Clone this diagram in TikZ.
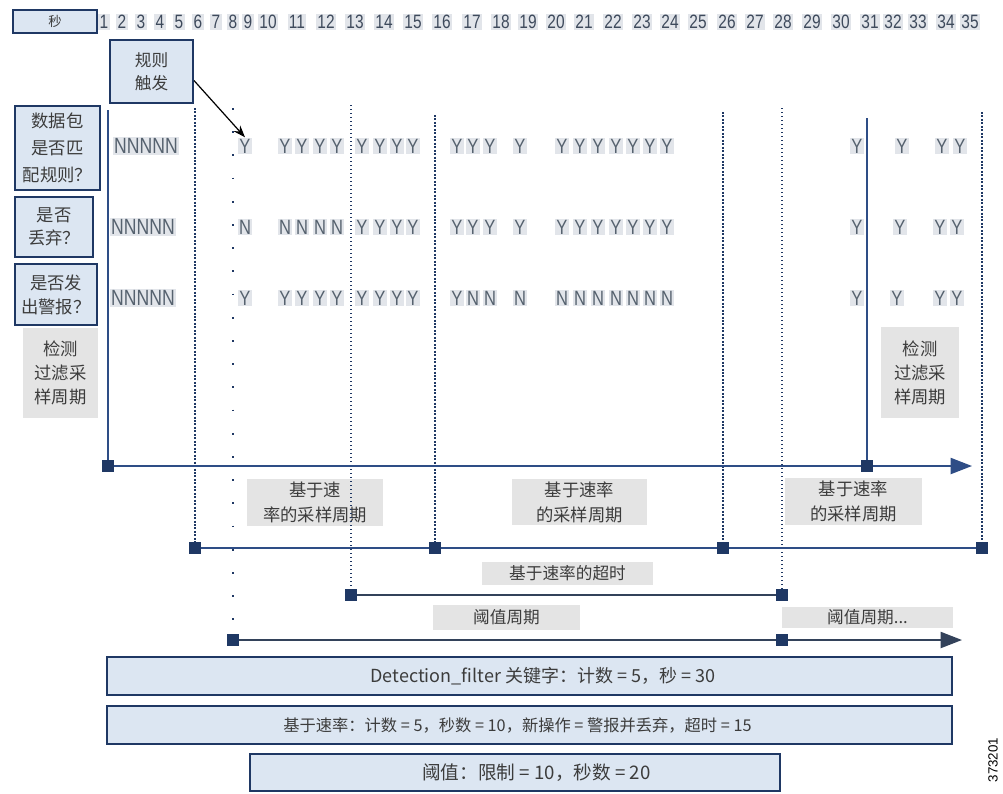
\documentclass[tikz,border=0pt]{standalone}
\usepackage{fontspec}
\setmainfont{Liberation Sans}
\newfontfamily\cjk{Noto Sans CJK SC}
\newfontfamily\narrowf{Liberation Sans}[FakeStretch=0.8]
\usetikzlibrary{arrows.meta}
\definecolor{navy}{HTML}{1F3864}
\definecolor{linec}{HTML}{2E4D86}
\definecolor{slate}{HTML}{33425A}
\definecolor{bfill}{HTML}{DCE6F2}
\definecolor{gfill}{HTML}{E4E4E4}
\definecolor{txt}{HTML}{3C3C3C}
\definecolor{numtxt}{HTML}{3E4A5C}
\definecolor{numbg}{HTML}{E2E5EA}
\definecolor{yntxt}{HTML}{56626F}
\newcommand{\mybox}[7]{\node[#1, minimum width={(#5-#3)*0.75pt}, minimum height={(#6-#4)*0.75pt}] (#2) at ({(#3+#5)/2},{(#4+#6)/2}) {#7};}
\begin{document}
\begin{tikzpicture}[x=0.75pt,y=-0.75pt,
  lbox/.style={draw=navy, line width=1.5pt, fill=bfill, inner sep=0pt, text=txt, align=center},
  gbox/.style={fill=gfill, draw=none, inner sep=0pt, text=txt, align=center},
  bbox/.style={draw=navy, line width=1.2pt, fill=bfill, inner sep=0pt},
  btext/.style={text=txt, inner sep=0pt},
  num/.style={fill=numbg, text=numtxt, inner sep=1pt, font=\narrowf\fontsize{14.5}{15}\selectfont},
  yn/.style={fill=numbg, text=yntxt, inner sep=1pt, font=\narrowf\fontsize{15.5}{16}\selectfont},
  nn/.style={fill=numbg, text=yntxt, inner sep=1pt, font=\narrowf\fontsize{16.5}{17}\selectfont},
  sq/.style={fill=navy, draw=none, minimum size=8.8pt, inner sep=0pt},
  tline/.style={draw=linec, line width=1.5pt},
  sline/.style={draw=slate, line width=1.5pt},
  densedot/.style={draw=navy, line width=1.5pt, dash pattern=on 1.5pt off 1.1pt},
  lightdot/.style={draw=navy, line width=1.5pt, dash pattern=on 1.1pt off 1.9pt},
  sparsedot/.style={draw=navy, line width=1.6pt, dash pattern=on 1.4pt off 16pt},
  tip/.style={-{Triangle[length=16pt,width=12pt]}}
]
\useasboundingbox (0,0) rectangle (1003,793);

% ---- seconds row
\mybox{lbox, font=\cjk\fontsize{10}{11}\selectfont}{sec}{13}{10}{97}{33}{秒}
\foreach \n/\x in {1/104,2/122,3/141,4/160,5/179,6/198,7/216,8/233,9/248,10/268,
  11/297,12/326,13/355,14/384,15/413,16/442,17/472,18/501,19/528,20/556,21/584,22/613,
  23/642,24/670,25/698,26/727,27/755,28/783,29/812,30/841,31/870,32/893,33/918,34/946,35/970}
  \node[num] (n\n) at (\x,22) {\n};

% ---- left labels
\mybox{lbox, font=\cjk\fontsize{12.5}{17.25}\selectfont}{trig}{110}{40}{193}{103}{规则\\触发}
\mybox{lbox, font=\cjk\fontsize{13}{20}\selectfont}{q1}{15}{106}{100}{190}{数据包\\是否匹\\配规则？}
\mybox{lbox, font=\cjk\fontsize{13}{17.25}\selectfont}{q2}{15}{197}{93}{257}{是否\\丢弃？}
\mybox{lbox, font=\cjk\fontsize{13}{18}\selectfont}{q3}{15}{264}{97}{325}{是否发\\出警报？}
\mybox{gbox, font=\cjk\fontsize{13}{18}\selectfont}{dl}{23}{328}{98}{418}{检测\\过滤采\\样周期}
\mybox{gbox, font=\cjk\fontsize{13}{18}\selectfont}{dr}{881}{327}{959}{418}{检测\\过滤采\\样周期}

% ---- period labels
\mybox{gbox, font=\cjk\fontsize{13}{18.75}\selectfont}{rp1}{247}{479}{383}{526}{基于速\\率的采样周期}
\mybox{gbox, font=\cjk\fontsize{13}{18.75}\selectfont}{rp2}{512}{479}{647}{525}{基于速率\\的采样周期}
\mybox{gbox, font=\cjk\fontsize{13}{18.75}\selectfont}{rp3}{785}{478}{922}{525}{基于速率\\的采样周期}
\mybox{gbox, font=\cjk\fontsize{12.5}{14}\selectfont}{rto}{482}{562}{653}{585}{基于速率的超时}
\mybox{gbox, font=\cjk\fontsize{12.5}{14}\selectfont}{th1}{433}{605}{580}{630}{阈值周期}
\mybox{gbox, font=\cjk\fontsize{12.5}{14}\selectfont}{th2}{782}{607}{953}{628}{阈值周期...}

% ---- bottom boxes
\mybox{bbox}{b1}{107}{657}{952}{695}{}
\mybox{bbox}{b2}{107}{706}{952}{744}{}
\mybox{bbox}{b3}{250}{754}{780}{791}{}
\node[btext, font=\cjk\fontsize{13.5}{15}\selectfont, xshift=10pt] (b1t) at (b1) {Detection\_filter 关键字：计数 = 5，秒 = 30};
\node[btext, font=\cjk\fontsize{12.2}{15}\selectfont, xshift=-9pt] (b2t) at (b2) {基于速率：计数 = 5，秒数 = 10，新操作 = 警报并丢弃，超时 = 15};
\node[btext, font=\cjk\fontsize{14}{15}\selectfont, xshift=16pt] (b3t) at (b3) {阈值：限制 = 10，秒数 = 20};
\node[rotate=90, text=black, font=\fontsize{10}{11}\selectfont, inner sep=0pt] (fid) at (993,760) {373201};

% ---- Y/N rows
\node[nn] (r1-0) at (146,146) {NNNNN};
\node[nn] (r2-0) at (143,227) {NNNNN};
\node[nn] (r3-0) at (143,298) {NNNNN};
\foreach \x/\l [count=\i] in {245/Y,285/Y,302/Y,320/Y,337/Y,362/Y,380/Y,397/Y,413/Y,457/Y,473/Y,490/Y,520/Y,
   562/Y,580/Y,598/Y,616/Y,633/Y,650/Y,667/Y,857/Y,902/Y,942/Y,960/Y}
  \node[yn] (r1-\i) at (\x,146) {\l};
\foreach \x/\l [count=\i] in {245/N,285/N,302/N,320/N,337/N,362/Y,380/Y,397/Y,413/Y,457/Y,473/Y,490/Y,520/Y,
   562/Y,580/Y,598/Y,616/Y,633/Y,650/Y,667/Y,857/Y,900/Y,940/Y,957/Y}
  \node[yn] (r2-\i) at (\x,227) {\l};
\foreach \x/\l [count=\i] in {245/Y,285/Y,302/Y,320/Y,337/Y,362/Y,380/Y,397/Y,413/Y,457/Y,473/N,490/N,520/N,
   562/N,580/N,598/N,616/N,633/N,650/N,667/N,857/Y,897/Y,940/Y,957/Y}
  \node[yn] (r3-\i) at (\x,298) {\l};

% ---- rule trigger arrow
\draw[-{Stealth[length=9pt,width=6.5pt]}, line width=0.9pt, black] (trig.-12) -- (r1-1.north);

% ---- coordinates
\coordinate (v1) at (108,110);   \coordinate (m1) at (108,466);
\coordinate (v31) at (867,118);  \coordinate (m31) at (867,466);
\coordinate (m36) at (972,466);
\coordinate (v6) at (195,108);   \coordinate (s6) at (195,548);
\coordinate (v16) at (435,115);  \coordinate (s16) at (435,548);
\coordinate (v26) at (723,112);  \coordinate (s26) at (723,548);
\coordinate (v36) at (982,112);  \coordinate (s36) at (982,548);
\coordinate (v13) at (351,105);  \coordinate (t13) at (351,595);
\coordinate (v28) at (782,108);  \coordinate (t28) at (782,595);
\coordinate (v8) at (233,108);   \coordinate (h8) at (233,640);
\coordinate (h28) at (782,640);  \coordinate (h36) at (962,640);

% ---- vertical lines
\draw[tline] (v1) -- (m1);
\draw[tline] (v31) -- (m31);
\draw[densedot] (v6) -- (s6);
\draw[densedot] (v16) -- (s16);
\draw[densedot] (v26) -- (s26);
\draw[densedot] (v36) -- (s36);
\draw[lightdot] (v13) -- (t13);
\draw[lightdot] (v28) -- (t28);
\draw[sparsedot] (v8) -- (h8);

% ---- horizontal lines
\draw[tline, tip] (m1) -- (m36);
\draw[tline] (s6) -- (s36);
\draw[sline] (t13) -- (t28);
\draw[sline, tip] (h8) -- (h36);

% ---- square markers
\foreach \c in {m1,m31,s6,s16,s26,s36,t13,t28,h8,h28}
  \node[sq] (q-\c) at (\c) {};
\end{tikzpicture}
\end{document}
